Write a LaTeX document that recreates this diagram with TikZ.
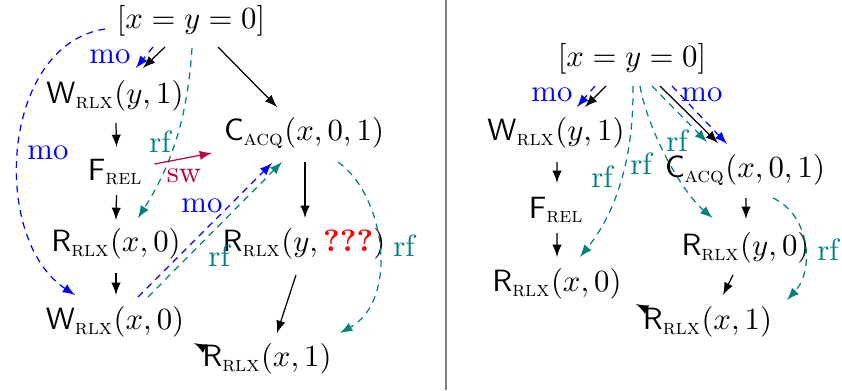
\documentclass[tikz,border=0pt]{standalone}
\usepackage{amsmath}
\usetikzlibrary{arrows}
\newcommand{\myev}[2]{\mathsf{#1}_{\text{\textsc{#2}}}}
\tikzset{
  ev/.style={inner sep=0pt},
  po/.style={-latex, black, line width=0.4pt},
  mol/.style={-latex, blue, dash pattern=on 2.2pt off 1.8pt},
  rfl/.style={-latex, teal, dash pattern=on 2.2pt off 1.8pt},
  swl/.style={-latex, purple},
  lab/.style={inner sep=0pt},
}
\begin{document}
\begin{tikzpicture}[x=0.325pt,y=-0.325pt]
\useasboundingbox (0,0) rectangle (842,390);
% divider
\draw[gray, line width=0.5pt] (446,0) -- (446,390);

% ---------- left panel ----------
\node[ev] (iL)   at (191,21)  {$[x=y=0]$};
\node[ev] (wyL)  at (115,96)  {$\myev{W}{rlx}(y,1)$};
\node[ev] (cL)   at (304,133) {$\myev{C}{acq}(x,0,1)$};
\node[ev] (fL)   at (115.5,172) {$\myev{F}{rel}$};
\node[ev] (rx0L) at (116,244) {$\myev{R}{rlx}(x,0)$};
\node[ev] (wxL)  at (115,322) {$\myev{W}{rlx}(x,0)$};
\node[ev] (ryL)  at (304,244) {$\myev{R}{rlx}(y,\text{\textcolor{red}{\textbf{???}}})$};
\node[ev] (rx1L) at (267,359) {$\myev{R}{rlx}(x,1)$};

\draw[po] ([shift={(-26,26)}]iL.center) -- ([shift={(28,-28)}]wyL.center);
\draw[mol] ([shift={(-38,26)}]iL.center) -- ([shift={(21,-28)}]wyL.center);
\draw[po] ([shift={(27,26)}]iL.center) -- ([shift={(-27,-26)}]cL.center);
\draw[po] ([shift={(1,27)}]wyL.center) -- ([shift={(1,-25)}]fL.center);
\draw[po] ([shift={(1,23)}]fL.center) -- ([shift={(0,-24)}]rx0L.center);
\draw[po] ([shift={(0,29)}]rx0L.center) -- ([shift={(1,-27)}]wxL.center);
\draw[po] ([shift={(1,29)}]cL.center) -- ([shift={(1,-26)}]ryL.center);
\draw[po] ([shift={(-8,31)}]ryL.center) -- ([shift={(10,-26)}]rx1L.center);
\draw[mol] ([shift={(-86,8)}]iL.center) .. controls (0,45) and (-10,240) .. ([shift={(-40,-27)}]wxL.center);
\draw[rfl] ([shift={(1,27)}]iL.center) .. controls (188,110) and (175,160) .. ([shift={(22,-26)}]rx0L.center);
\draw[swl] ([shift={(39,-8)}]fL.center) -- ([shift={(-92,20)}]cL.center);
\draw[mol] ([shift={(23,-25)}]wxL.center) -- ([shift={(-32,30)}]cL.center);
\draw[rfl] ([shift={(33,-25)}]wxL.center) -- ([shift={(-22,29)}]cL.center);
\draw[rfl] ([shift={(34,29)}]cL.center) .. controls (385,195) and (400,300) .. ([shift={(73,-26)}]rx1L.center);
\draw[po] ([shift={(-70,-14.5)}]rx1L.center) -- ([shift={(79,21)}]wxL.center);

\node[lab, blue] (m1L) at (110,57) {mo};
\node[lab, blue] (m2L) at (48,153) {mo};
\node[lab, teal] (r1L) at (160,142) {rf};
\node[lab, purple] (s1L) at (184,176) {sw};
\node[lab, blue] (m3L) at (202,206) {mo};
\node[lab, teal] (r2L) at (219,256) {rf};
\node[lab, teal] (r3L) at (404,246) {rf};

% ---------- right panel ----------
\node[ev] (iR)   at (632,59)  {$[x=y=0]$};
\node[ev] (wyR)  at (556,133) {$\myev{W}{rlx}(y,1)$};
\node[ev] (cR)   at (745,170) {$\myev{C}{acq}(x,0,1)$};
\node[ev] (fR)   at (556.5,210) {$\myev{F}{rel}$};
\node[ev] (rx0R) at (557,284) {$\myev{R}{rlx}(x,0)$};
\node[ev] (ryR)  at (745.5,248) {$\myev{R}{rlx}(y,0)$};
\node[ev] (rx1R) at (707.5,322) {$\myev{R}{rlx}(x,1)$};

\draw[po] ([shift={(-26,27)}]iR.center) -- ([shift={(29,-26)}]wyR.center);
\draw[mol] ([shift={(-37,27)}]iR.center) -- ([shift={(21,-26)}]wyR.center);
\draw[po] ([shift={(28,27)}]iR.center) -- ([shift={(-27,-27)}]cR.center);
\draw[mol] ([shift={(40,27)}]iR.center) -- ([shift={(-18,-26)}]cR.center);
\draw[rfl] ([shift={(20,27)}]iR.center) -- ([shift={(-38,-28)}]cR.center);
\draw[rfl] ([shift={(8,27)}]iR.center) .. controls (648,130) and (680,190) .. ([shift={(-33,-30)}]ryR.center);
\draw[rfl] ([shift={(1,27)}]iR.center) .. controls (634,170) and (610,220) .. ([shift={(23,-27)}]rx0R.center);
\draw[po] ([shift={(1,29)}]wyR.center) -- ([shift={(0.5,-27)}]fR.center);
\draw[po] ([shift={(0.5,23)}]fR.center) -- ([shift={(0,-27)}]rx0R.center);
\draw[po] ([shift={(1,28)}]cR.center) -- ([shift={(0.5,-29)}]ryR.center);
\draw[po] ([shift={(-12.5,27)}]ryR.center) -- ([shift={(15.5,-27)}]rx1R.center);
\draw[rfl] ([shift={(28,28)}]cR.center) .. controls (810,215) and (815,270) .. ([shift={(79.5,-22)}]rx1R.center);
\draw[po] ([shift={(-68.5,-16.5)}]rx1R.center) -- ([shift={(79,20)}]rx0R.center);

\node[lab, blue] (m1R) at (552,95) {mo};
\node[lab, blue] (m2R) at (702,95) {mo};
\node[lab, teal] (r1R) at (677,141) {rf};
\node[lab, teal] (r2R) at (641,164) {rf};
\node[lab, teal] (r3R) at (602,177) {rf};
\node[lab, teal] (r4R) at (828,250) {rf};
\end{tikzpicture}
\end{document}
